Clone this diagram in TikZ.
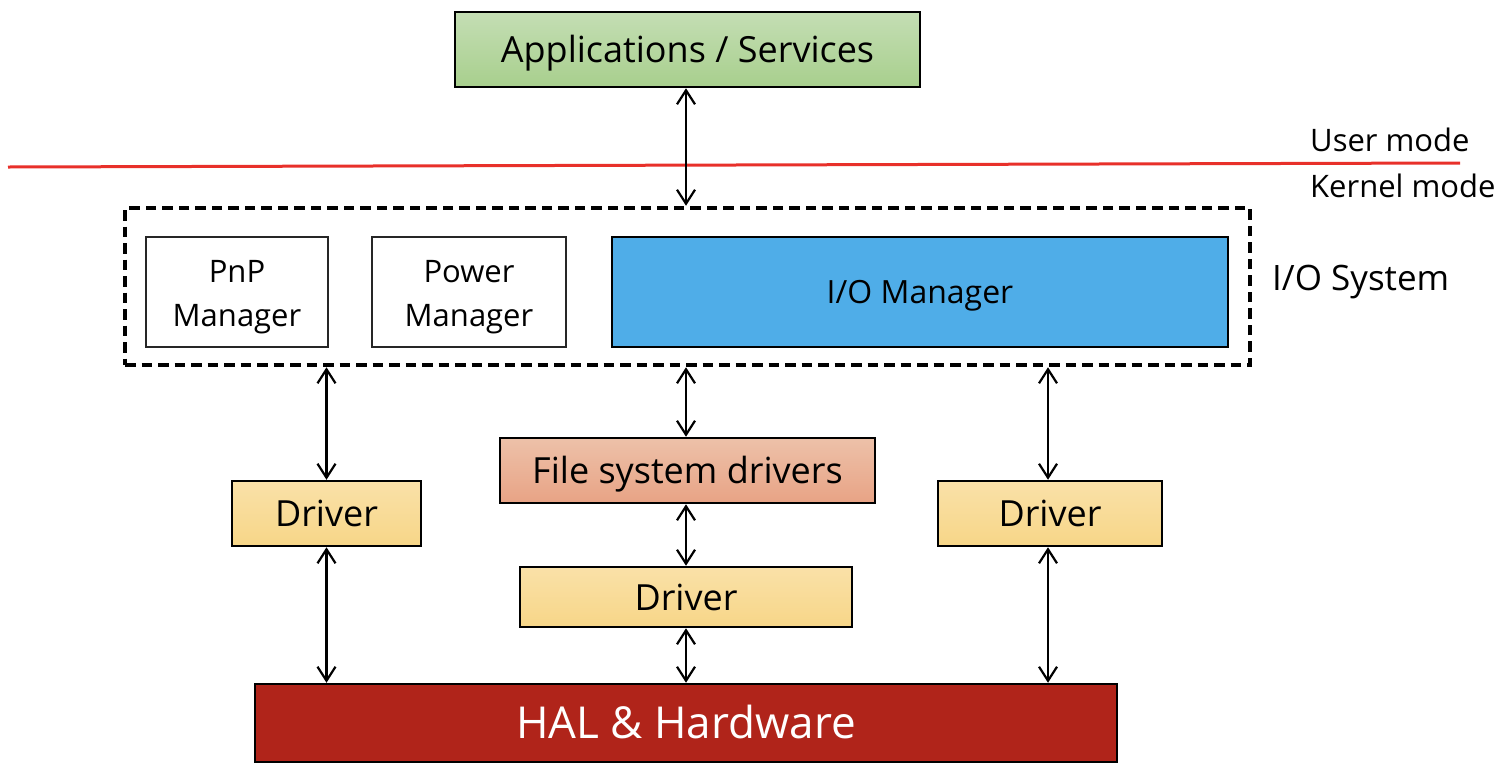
\documentclass[tikz,border=0pt]{standalone}
\usepackage{fontspec}
\setmainfont{Open Sans}
\usetikzlibrary{arrows.meta}
\definecolor{greenT}{HTML}{C4DEB4}
\definecolor{greenB}{HTML}{A8CF8D}
\definecolor{ioblue}{HTML}{4FADE8}
\definecolor{salT}{HTML}{EDC1A9}
\definecolor{salB}{HTML}{E8A385}
\definecolor{yelT}{HTML}{FAE1A8}
\definecolor{yelB}{HTML}{F7D688}
\definecolor{halred}{HTML}{B0241A}
\definecolor{modered}{HTML}{E8302A}
\tikzset{
  box/.style={draw=black, line width=2.5pt, inner sep=0pt, align=center},
  big/.style={font=\fontsize{36}{42}\selectfont, text height=26pt, text depth=0pt},
  mid/.style={font=\fontsize{32}{38}\selectfont, text height=23pt, text depth=0pt},
  huge/.style={font=\fontsize{44}{52}\selectfont, text height=31.5pt, text depth=0pt},
  thinbox/.style={draw=black!85, line width=1.8pt, inner sep=0pt},
  txt/.style={inner sep=0pt, align=center},
  conn/.style={line width=2.2pt, {Straight Barb[length=14pt,width=18pt,line width=2.2pt]}-{Straight Barb[length=14pt,width=18pt,line width=2.2pt]}},
  lbl/.style={inner sep=0pt, anchor=west}
}
\begin{document}
\begin{tikzpicture}[x=1pt,y=-1pt]
\useasboundingbox (0,0) rectangle (1510,772);
% applications
\node[box, big, top color=greenT, bottom color=greenB, minimum width=465pt, minimum height=75pt] (apps) at (687.5,49.5) {Applications / Services};
% user/kernel line
\coordinate (redL) at (8,167);
\coordinate (redR) at (1460,163);
\draw[modered, line width=3pt] (redL) -- (redR);
\node[lbl, font=\fontsize{31}{36}\selectfont] (user) at (1310,140) {User mode};
\node[lbl, font=\fontsize{31}{36}\selectfont] (kernel) at (1310,186) {Kernel mode};
% I/O system
\node[draw=black, line width=4.5pt, dash pattern=on 10.5pt off 6pt, minimum width=1125pt, minimum height=157pt, inner sep=0pt] (sys) at (687.5,286.5) {};
\node[lbl, font=\fontsize{35}{42}\selectfont] (syslbl) at (1272,282) {I/O System};
\node[thinbox, minimum width=182pt, minimum height=110pt] (pnp) at (237,292) {};
\node[txt, font=\fontsize{31}{44}\selectfont] (pnptxt) at ([yshift=-5pt]pnp.center) {PnP\\Manager};
\node[thinbox, minimum width=194pt, minimum height=110pt] (power) at (469,292) {};
\node[txt, font=\fontsize{31}{44}\selectfont] (powertxt) at ([yshift=-5pt]power.center) {Power\\Manager};
\node[box, mid, line width=2pt, fill=ioblue, minimum width=616pt, minimum height=110pt] (io) at (920,292) {I/O Manager};
% drivers
\node[box, big, top color=yelT, bottom color=yelB, minimum width=189pt, minimum height=65pt] (drvL) at (326.5,513.5) {Driver};
\node[box, big, top color=salT, bottom color=salB, minimum width=375pt, minimum height=65pt] (fs) at (687.5,470.5) {File system drivers};
\node[box, big, top color=yelT, bottom color=yelB, minimum width=332pt, minimum height=60pt] (drvM) at (686,597) {Driver};
\node[box, big, top color=yelT, bottom color=yelB, minimum width=224pt, minimum height=65pt] (drvR) at (1050,513.5) {Driver};
% HAL
\node[box, huge, fill=halred, text=white, minimum width=862pt, minimum height=78pt] (hal) at (686,723) {HAL \& Hardware};
% connectors
\draw[conn] ([xshift=-1.5pt]apps.south) -- ([xshift=-1.5pt]apps.south |- sys.north);
\draw[conn] (drvL.north) -- (drvL.north |- sys.south);
\draw[conn] ([xshift=-1.5pt]fs.north) -- ([xshift=-1.5pt]fs.north |- sys.south);
\draw[conn] ([xshift=-2pt]drvR.north) -- ([xshift=-2pt]drvR.north |- sys.south);
\draw[conn] (drvM.north |- fs.south) -- (drvM.north);
\draw[conn] (drvL.south) -- (drvL.south |- hal.north);
\draw[conn] (drvM.south) -- (drvM.south |- hal.north);
\draw[conn] ([xshift=-2pt]drvR.south) -- ([xshift=-2pt]drvR.south |- hal.north);
\end{tikzpicture}
\end{document}
